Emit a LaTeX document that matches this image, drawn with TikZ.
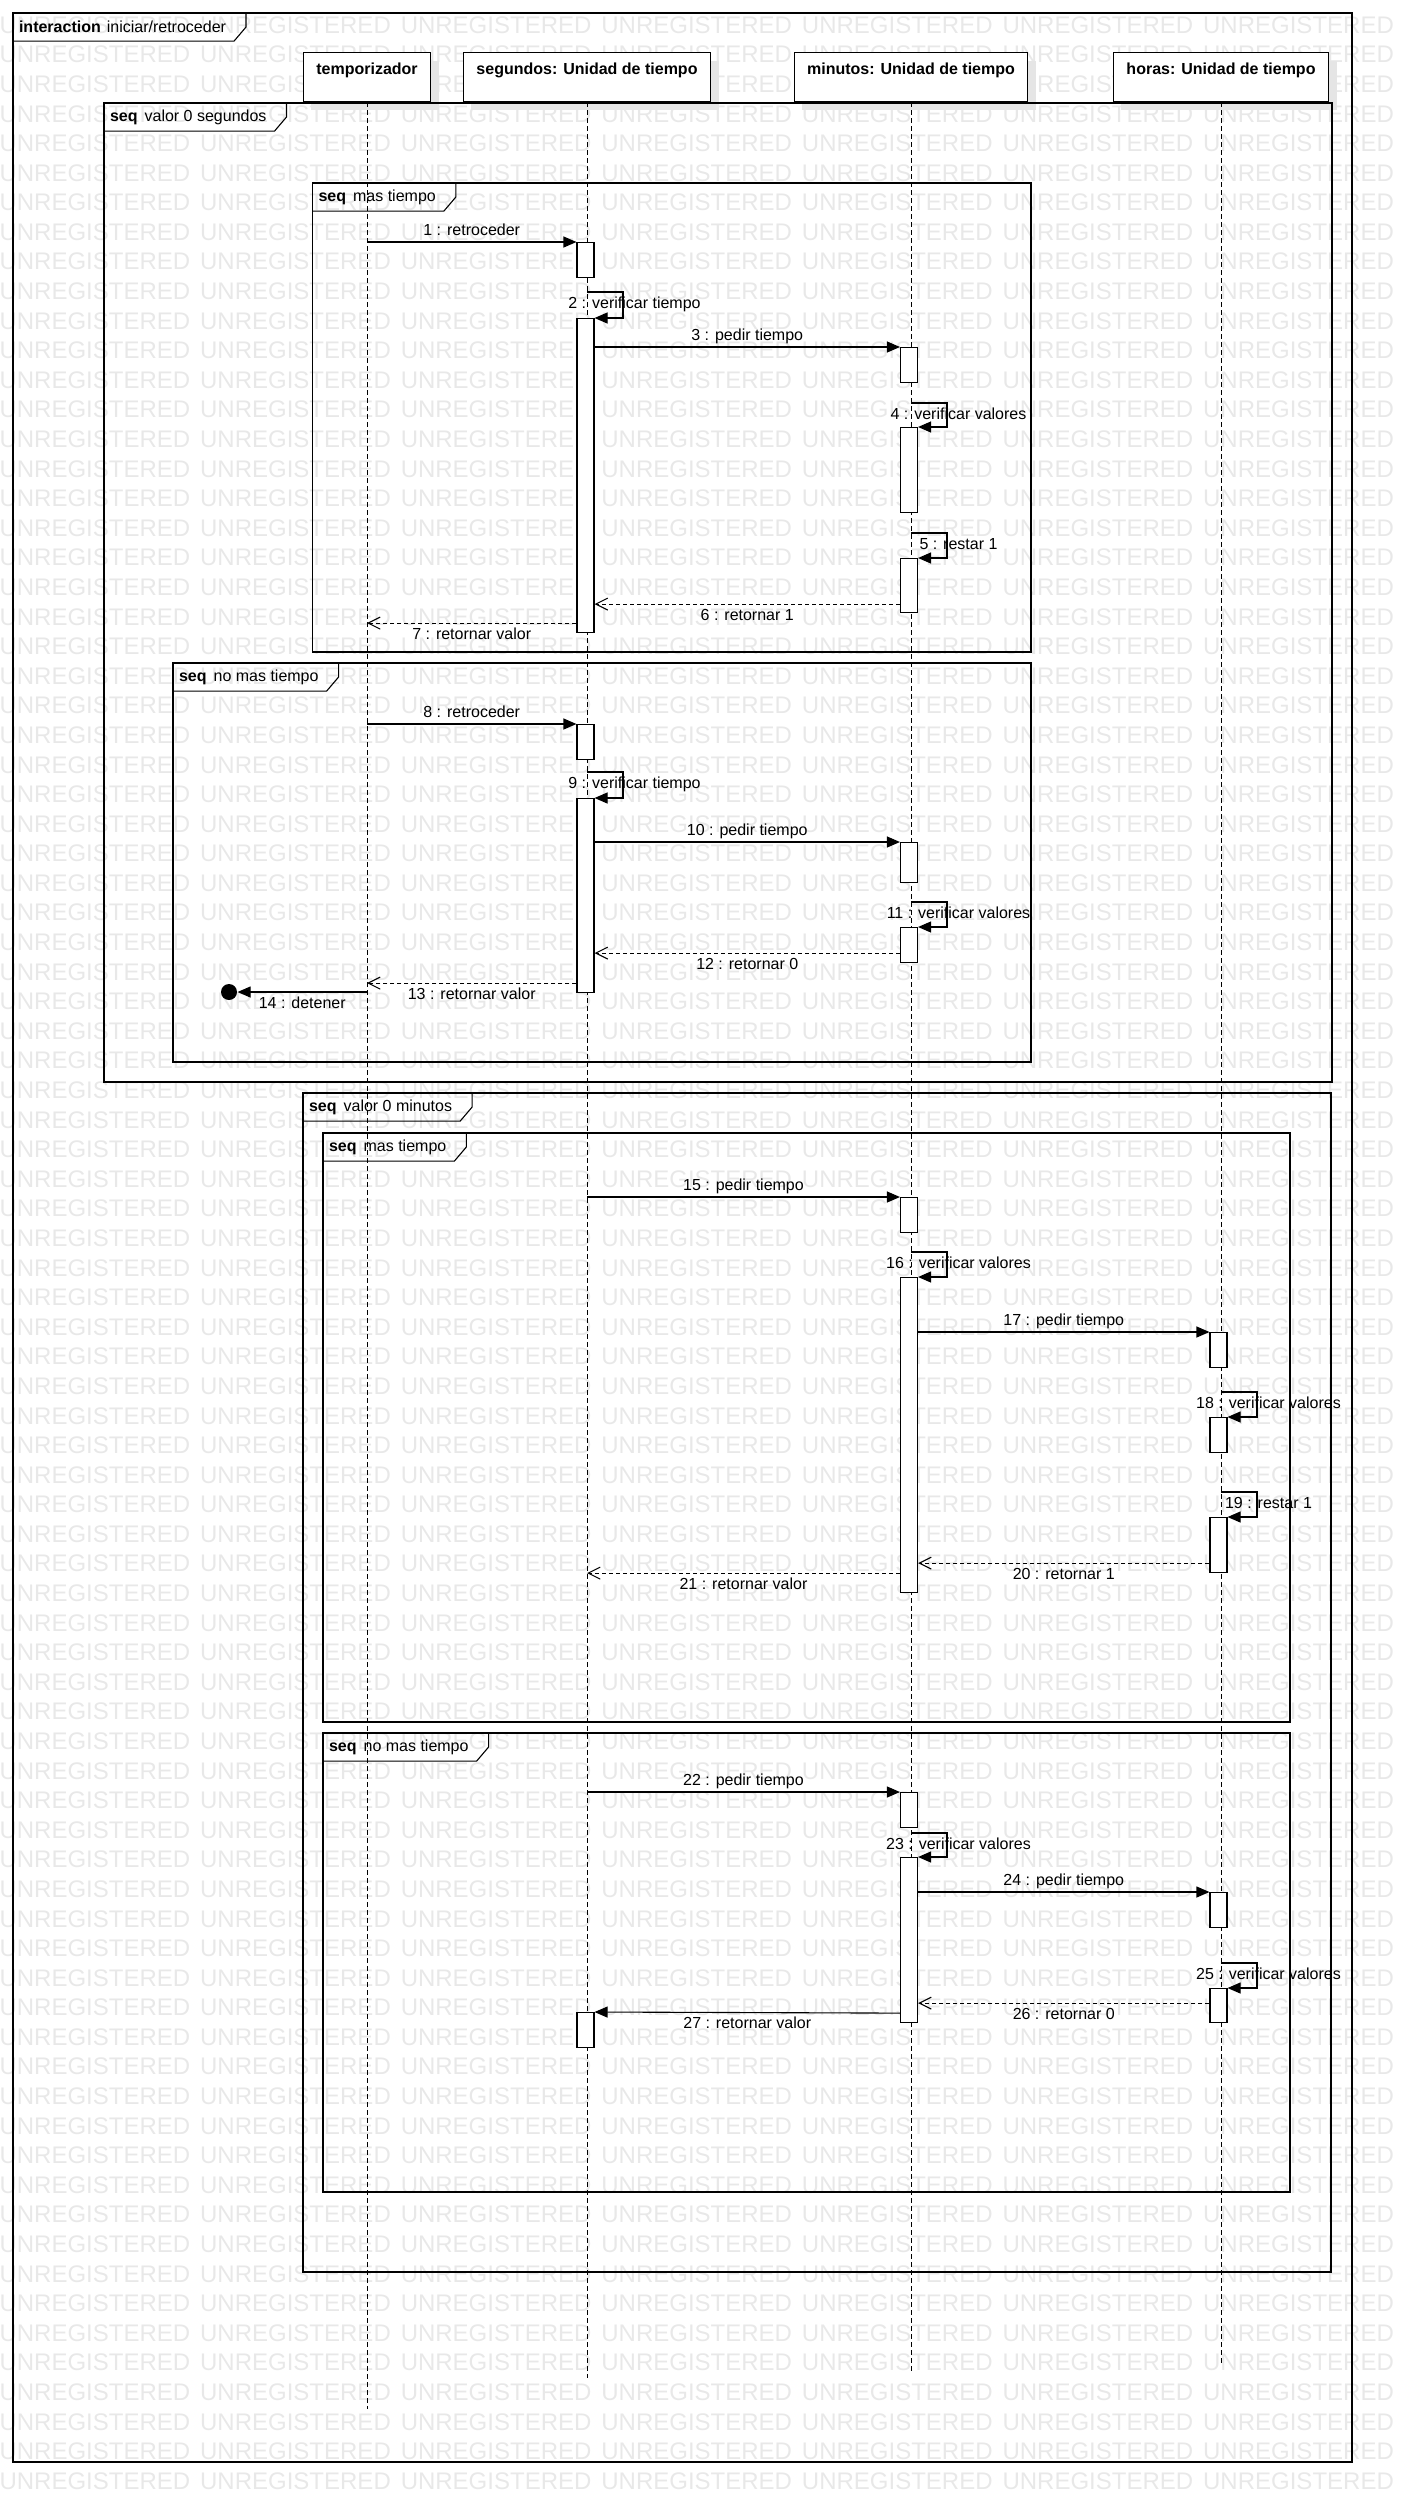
\documentclass[tikz,border=0pt]{standalone}
\usepackage{fontspec}
\setmainfont{Liberation Sans}
\usetikzlibrary{arrows.meta,shadows}

\begin{document}
\begin{tikzpicture}[x=1pt,y=-1pt,line width=1.1pt,
  every node/.style={font=\fontsize{16}{19}\selectfont},
  wm/.style={anchor=west,inner sep=0,text=black!9,font=\fontsize{24}{28}\selectfont},
  head/.style={draw,fill=white,anchor=north,inner xsep=13pt,inner ysep=0,text height=22pt,text depth=27pt,
    font=\fontsize{16}{19}\selectfont\bfseries,drop shadow={shadow xshift=8pt,shadow yshift=-8pt,fill=black!10,opacity=1}},
  tab/.style={anchor=north west,inner xsep=5.5pt,inner ysep=0,minimum height=27pt},
  life/.style={line width=1pt,dash pattern=on 5pt off 3pt},
  act/.style={draw,fill=white,anchor=north,minimum width=17pt,inner sep=0},
  call/.style={-{Triangle[length=13pt,width=11pt]}},
  ret/.style={dash pattern=on 4pt off 3pt,-{Straight Barb[length=12pt,width=12pt]}},
  lbla/.style={midway,anchor=base,inner sep=0,yshift=7pt},
  lblb/.style={midway,anchor=base,inner sep=0,yshift=-16pt},
  selflbl/.style={anchor=base,inner sep=0,xshift=11.5pt,yshift=-16pt},
  stopdot/.style={circle,fill=black,minimum size=16pt,inner sep=0}]
\useasboundingbox (0,0) rectangle (1402,2512);

% watermark
\begin{scope}
  \clip (0,0) rectangle (1402,2512);
  \foreach \r in {0,...,83}
    \foreach \c in {0,...,7}
      \node[wm] (wm-\r-\c) at (\c*200.6-1,25+\r*29.59) {UNREGISTERED};
\end{scope}

% lifeline heads
\node[head] (tmp) at (367,52) {temporizador};
\node[head] (seg) at (587,52) {segundos: Unidad de tiempo};
\node[head] (min) at (911,52) {minutos: Unidad de tiempo};
\node[head] (hor) at (1221,52) {horas: Unidad de tiempo};

% frames
\draw (13,13) rectangle (1352,2462);
\node[tab] (fint) at (13,13) {\textbf{interaction}\hspace{6pt}iniciar/retroceder};
\draw (fint.north east) ++(14,0) -- ++(0,14) -- ([xshift=2pt]fint.south east) -- (fint.south west);

\draw (104,103) rectangle (1332,1082);
\node[tab] (fseg) at (104,103) {\textbf{seq}\hspace{7pt}valor 0 segundos};
\draw (fseg.north east) ++(14,0) -- ++(0,14) -- ([xshift=2pt]fseg.south east) -- (fseg.south west);

\draw (312.5,183) rectangle (1031,652);
\node[tab] (fmas) at (312.5,183) {\textbf{seq}\hspace{7pt}mas tiempo};
\draw (fmas.north east) ++(14,0) -- ++(0,14) -- ([xshift=2pt]fmas.south east) -- (fmas.south west);

\draw (173,663) rectangle (1031,1062);
\node[tab] (fnomas) at (173,663) {\textbf{seq}\hspace{7pt}no mas tiempo};
\draw (fnomas.north east) ++(14,0) -- ++(0,14) -- ([xshift=2pt]fnomas.south east) -- (fnomas.south west);

\draw (303,1093) rectangle (1331,2272);
\node[tab] (fmin) at (303,1093) {\textbf{seq}\hspace{7pt}valor 0 minutos};
\draw (fmin.north east) ++(14,0) -- ++(0,14) -- ([xshift=2pt]fmin.south east) -- (fmin.south west);

\draw (323,1133) rectangle (1290,1722);
\node[tab] (fmas2) at (323,1133) {\textbf{seq}\hspace{7pt}mas tiempo};
\draw (fmas2.north east) ++(14,0) -- ++(0,14) -- ([xshift=2pt]fmas2.south east) -- (fmas2.south west);

\draw (323,1733) rectangle (1290,2192);
\node[tab] (fnomas2) at (323,1733) {\textbf{seq}\hspace{7pt}no mas tiempo};
\draw (fnomas2.north east) ++(14,0) -- ++(0,14) -- ([xshift=2pt]fnomas2.south east) -- (fnomas2.south west);

% lifelines
\coordinate (tmpend) at (367,2409);
\coordinate (segend) at (587,2378);
\coordinate (minend) at (911,2372);
\coordinate (horend) at (1221,2363);
\draw[life] (tmp.south) -- (tmpend);
\draw[life] (seg.south) -- (segend);
\draw[life] (min.south) -- (minend);
\draw[life] (hor.south) -- (horend);

% activations
\node[act,minimum height=35pt] (a1) at (585.5,242) {};
\node[act,minimum height=314pt] (a2) at (585.5,318) {};
\node[act,minimum height=35pt] (a3) at (909,347) {};
\node[act,minimum height=85pt] (a4) at (909,427) {};
\node[act,minimum height=54pt] (a5) at (909,558) {};
\node[act,minimum height=35pt] (a8) at (585.5,724) {};
\node[act,minimum height=194pt] (a9) at (585.5,798) {};
\node[act,minimum height=40pt] (a10) at (909,842) {};
\node[act,minimum height=35pt] (a11) at (909,927) {};
\node[act,minimum height=35pt] (a15) at (909,1197) {};
\node[act,minimum height=315pt] (a16) at (909,1277) {};
\node[act,minimum height=35pt] (a17) at (1218.5,1332) {};
\node[act,minimum height=35pt] (a18) at (1218.5,1417) {};
\node[act,minimum height=55pt] (a19) at (1218.5,1517) {};
\node[act,minimum height=35pt] (a22) at (909,1792) {};
\node[act,minimum height=165pt] (a23) at (909,1857) {};
\node[act,minimum height=35pt] (a24) at (1218.5,1892) {};
\node[act,minimum height=34pt] (a25) at (1218.5,1988) {};
\node[act,minimum height=35pt] (a27) at (585.5,2012) {};
\node[stopdot] (stop) at (229,992) {};

% seq valor 0 segundos / mas tiempo
\draw[call] (tmp |- a1.north) -- (a1.north west) node[lbla] {1 : retroceder};
\draw[call] (seg |- a2.north) ++(0,-26) -- ++(36,0) node[selflbl] {2 : verificar tiempo} -- ++(0,26) -- (a2.north east);
\draw[call] (a2.east |- a3.north) -- (a3.north west) node[lbla] {3 : pedir tiempo};
\draw[call] (min |- a4.north) ++(0,-24) -- ++(36,0) node[selflbl] {4 : verificar valores} -- ++(0,24) -- (a4.north east);
\draw[call] (min |- a5.north) ++(0,-25) -- ++(36,0) node[selflbl] {5 : restar 1} -- ++(0,25) -- (a5.north east);
\draw[ret] ([yshift=9pt]a5.south west) coordinate (r6) -- (a2.east |- r6) node[lblb] {6 : retornar 1};
\draw[ret] ([yshift=10pt]a2.south west) coordinate (r7) -- (tmp |- r7) node[lblb] {7 : retornar valor};

% no mas tiempo
\draw[call] (tmp |- a8.north) -- (a8.north west) node[lbla] {8 : retroceder};
\draw[call] (seg |- a9.north) ++(0,-26) -- ++(36,0) node[selflbl] {9 : verificar tiempo} -- ++(0,26) -- (a9.north east);
\draw[call] (a9.east |- a10.north) -- (a10.north west) node[lbla] {10 : pedir tiempo};
\draw[call] (min |- a11.north) ++(0,-25) -- ++(36,0) node[selflbl] {11 : verificar valores} -- ++(0,25) -- (a11.north east);
\draw[ret] ([yshift=10pt]a11.south west) coordinate (r12) -- (a9.east |- r12) node[lblb] {12 : retornar 0};
\draw[ret] ([yshift=10pt]a9.south west) coordinate (r13) -- (tmp |- r13) node[lblb] {13 : retornar valor};
\draw[call] (tmp |- stop) -- (stop) node[lblb] {14 : detener};

% seq valor 0 minutos / mas tiempo
\draw[call] (seg |- a15.north) -- (a15.north west) node[lbla] {15 : pedir tiempo};
\draw[call] (min |- a16.north) ++(0,-25) -- ++(36,0) node[selflbl] {16 : verificar valores} -- ++(0,25) -- (a16.north east);
\draw[call] (a16.east |- a17.north) -- (a17.north west) node[lbla] {17 : pedir tiempo};
\draw[call] (hor |- a18.north) ++(0,-25) -- ++(36,0) node[selflbl] {18 : verificar valores} -- ++(0,25) -- (a18.north east);
\draw[call] (hor |- a19.north) ++(0,-25) -- ++(36,0) node[selflbl] {19 : restar 1} -- ++(0,25) -- (a19.north east);
\draw[ret] ([yshift=10pt]a19.south west) coordinate (r20) -- (a16.east |- r20) node[lblb] {20 : retornar 1};
\draw[ret] ([yshift=20pt]a16.south west) coordinate (r21) -- (seg |- r21) node[lblb] {21 : retornar valor};

% no mas tiempo
\draw[call] (seg |- a22.north) -- (a22.north west) node[lbla] {22 : pedir tiempo};
\draw[call] (min |- a23.north) ++(0,-24) -- ++(36,0) node[selflbl] {23 : verificar valores} -- ++(0,24) -- (a23.north east);
\draw[call] (a23.east |- a24.north) -- (a24.north west) node[lbla] {24 : pedir tiempo};
\draw[call] (hor |- a25.north) ++(0,-25) -- ++(36,0) node[selflbl] {25 : verificar valores} -- ++(0,25) -- (a25.north east);
\draw[ret] ([yshift=20pt]a25.south west) coordinate (r26) -- (a23.east |- r26) node[lblb] {26 : retornar 0};
\draw[call] ([yshift=10pt]a23.south west) -- (a27.north east) node[lblb] {27 : retornar valor};
\end{tikzpicture}
\end{document}
